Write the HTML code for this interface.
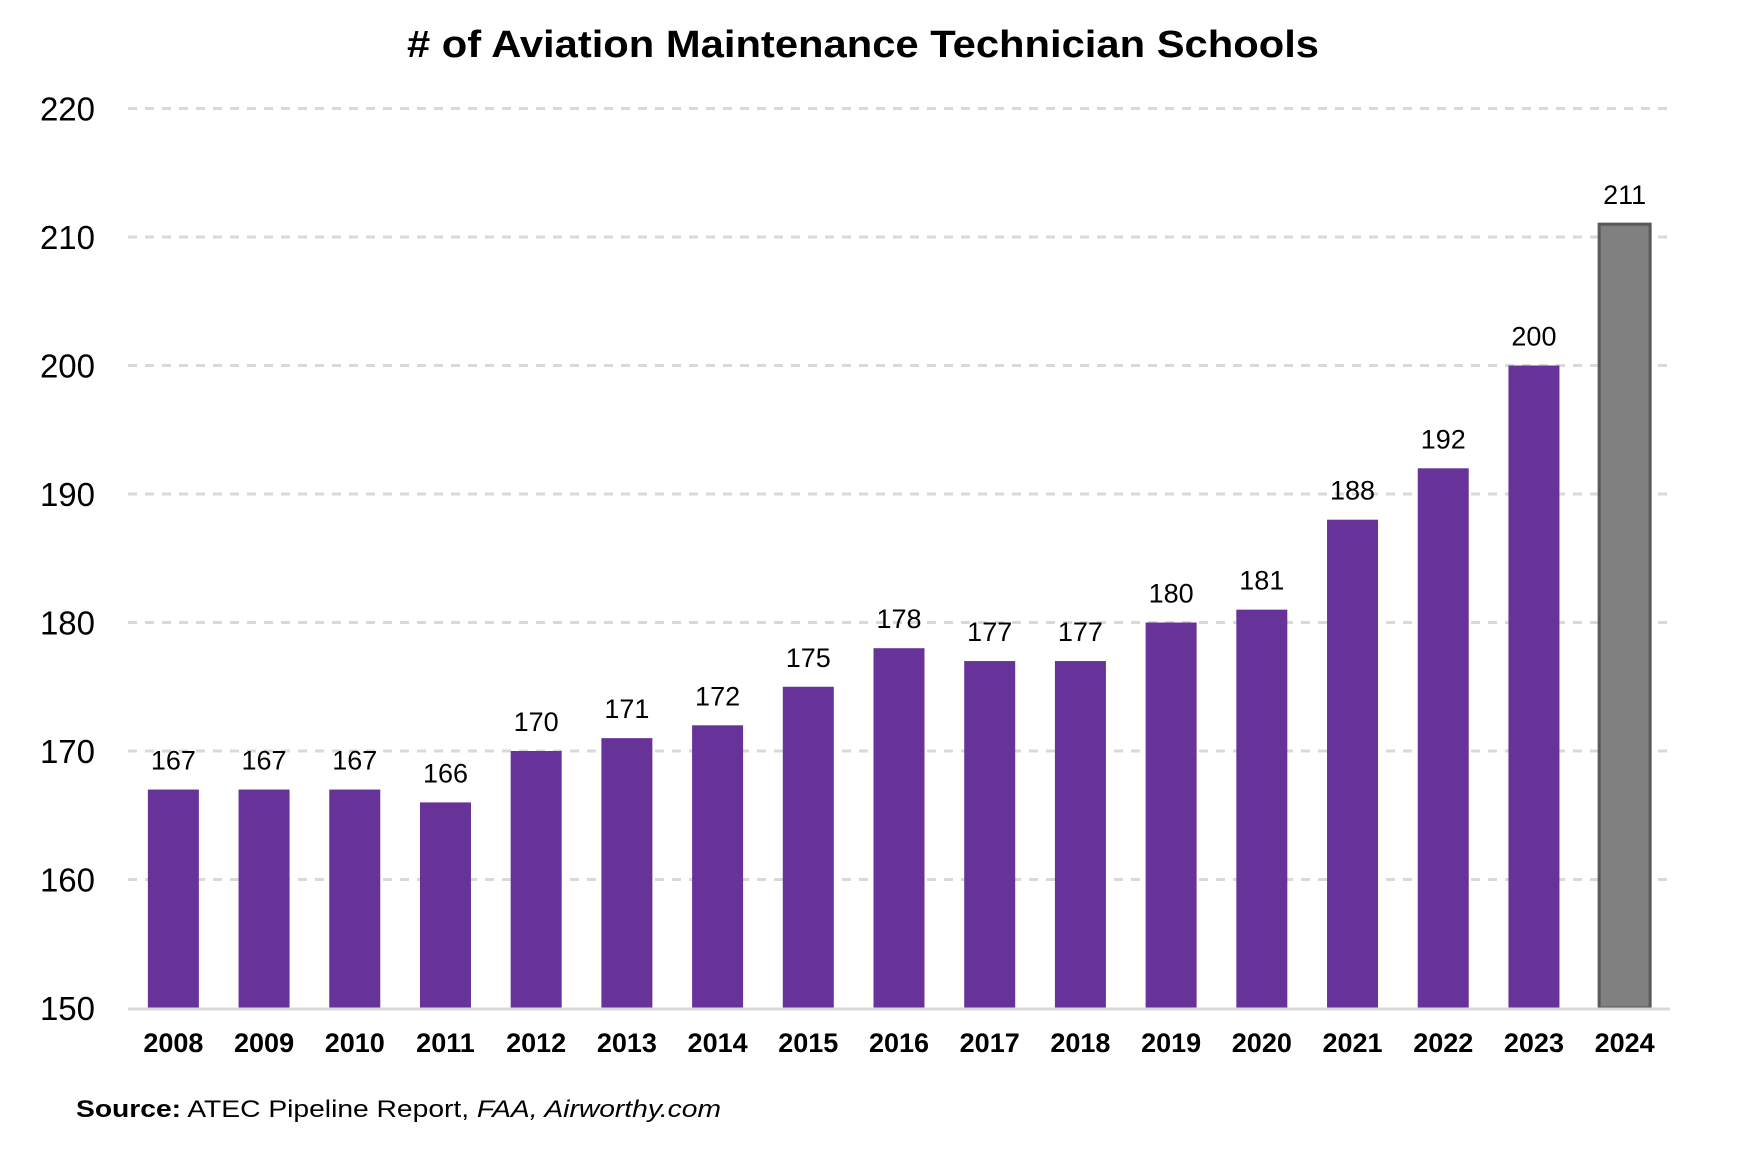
<!DOCTYPE html>
<html><head><meta charset="utf-8">
<style>
html,body{margin:0;padding:0;background:#fff;}
svg{display:block;font-family:"Liberation Sans",Arial,sans-serif;}
</style></head>
<body>
<svg id="chart" width="1742" height="1170" viewBox="0 0 1742 1170" xmlns="http://www.w3.org/2000/svg">
<text x="863" y="57" text-anchor="middle" font-size="38" font-weight="bold" textLength="912" lengthAdjust="spacingAndGlyphs"># of Aviation Maintenance Technician Schools</text>
<g id="grid"></g>
<g id="yticks"></g>
<g id="bars"></g>
<g id="xticks"></g>
<text x="76" y="1117" font-size="24" textLength="645" lengthAdjust="spacingAndGlyphs"><tspan font-weight="bold">Source:</tspan> ATEC Pipeline Report, <tspan font-style="italic">FAA, Airworthy.com</tspan></text>
</svg>
<script>
const categories = ["2008","2009","2010","2011","2012","2013","2014","2015","2016","2017","2018","2019","2020","2021","2022","2023","2024"];
const values = [167,167,167,166,170,171,172,175,178,177,177,180,181,188,192,200,211];
const yTicks = [150,160,170,180,190,200,210,220];
const highlightIndex = 16;

const NS = "http://www.w3.org/2000/svg";
const plotL = 128, plotR = 1670, y0 = 1008, yTop = 108.5;
const yMin = 150, yMax = 220;
function yScale(v){ return y0 - (v - yMin) / (yMax - yMin) * (y0 - yTop); }
const step = (plotR - plotL) / categories.length;
function xCenter(i){ return plotL + step * (i + 0.5); }
const barW = 51;
function mk(tag, attrs, parent){
  const e = document.createElementNS(NS, tag);
  for (const k in attrs) e.setAttribute(k, attrs[k]);
  parent.appendChild(e); return e;
}
const grid = document.getElementById('grid');
const yt = document.getElementById('yticks');
yTicks.forEach(t => {
  const y = yScale(t);
  if (t !== yMin) {
    const l = mk('line', {x1: plotL, x2: plotR, y1: y, y2: y, stroke: '#d9d9d9', 'stroke-width': 3, 'stroke-dasharray': '9 8'}, grid);
    
    
  }
  const tx = mk('text', {x: 95, y: y + 12, 'text-anchor': 'end', 'font-size': 33, fill: '#000'}, yt);
  tx.textContent = t;
  
  
});
const bars = document.getElementById('bars');
const xt = document.getElementById('xticks');
values.forEach((v, i) => {
  const cx = xCenter(i), top = yScale(v);
  const hl = i === highlightIndex;
  const r = mk('rect', {x: cx - barW/2, y: top, width: barW, height: y0 - top,
    fill: hl ? '#808080' : '#673399', stroke: hl ? '#595959' : 'none', 'stroke-width': hl ? 3 : 0}, bars);
  
  
  const lab = mk('text', {x: cx, y: top - 20, 'text-anchor': 'middle', 'font-size': 27, fill: '#000'}, bars);
  lab.textContent = v;
  
  
  const xl = mk('text', {x: cx, y: 1052, 'text-anchor': 'middle', 'font-size': 27, 'font-weight': 'bold', fill: '#000'}, xt);
  xl.textContent = categories[i];
  
  
});
const ax = mk('line', {x1: plotL, x2: plotR, y1: y0 + 1, y2: y0 + 1, stroke: '#d9d9d9', 'stroke-width': 3}, xt);


</script>
</body></html>
